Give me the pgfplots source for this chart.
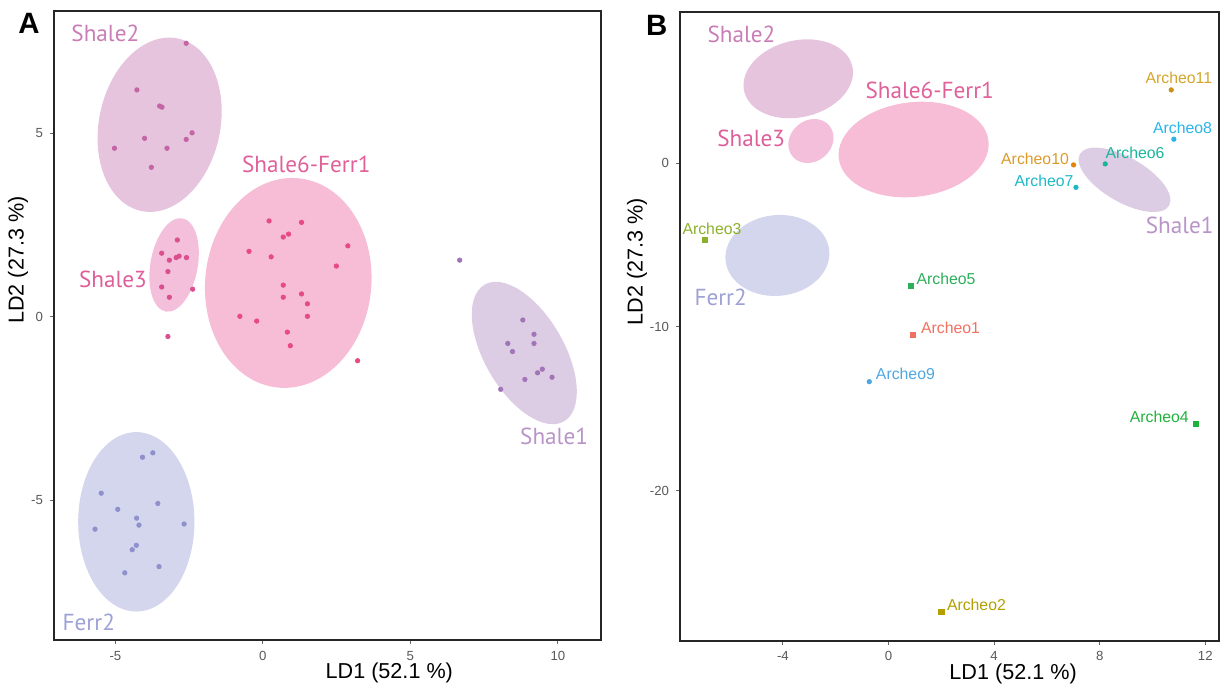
\documentclass[border=0pt]{standalone}
\usepackage{fontspec}
\setmainfont{Liberation Sans}
\newfontfamily\grpfont{PT Sans}
\usepackage{pgfplots}
\pgfplotsset{compat=1.18}

% group colours: ellipse fill, points, label
\definecolor{sh2fill}{HTML}{E6C4DD}
\definecolor{sh2pt}{HTML}{C465A6}
\definecolor{sh2txt}{HTML}{C97DB6}
\definecolor{sh3fill}{HTML}{F3BFDA}
\definecolor{sh3pt}{HTML}{DA4F90}
\definecolor{sh3txt}{HTML}{DE5E9A}
\definecolor{sh6fill}{HTML}{F7BDD7}
\definecolor{sh6pt}{HTML}{E64B86}
\definecolor{sh6txt}{HTML}{E0609A}
\definecolor{sh1fill}{HTML}{DDCDE4}
\definecolor{sh1pt}{HTML}{A275B6}
\definecolor{sh1txt}{HTML}{B894C7}
\definecolor{fe2fill}{HTML}{D3D6EC}
\definecolor{fe2pt}{HTML}{8F91CD}
\definecolor{fe2txt}{HTML}{9DA1D5}
% archaeological samples: point colour / label colour
\definecolor{ar1}{HTML}{F0705F}
\definecolor{ar2}{HTML}{B49F00}
\definecolor{ar3}{HTML}{8CB02A}
\definecolor{ar4}{HTML}{1FB23A}
\definecolor{ar5}{HTML}{2BAF5A}
\definecolor{ar6}{HTML}{19B69B}
\definecolor{ar7}{HTML}{1DBAC6}
\definecolor{ar8}{HTML}{29B4E8}
\definecolor{ar9}{HTML}{4FA6E0}
\definecolor{ar10}{HTML}{E5820A}
\definecolor{ar10t}{HTML}{DC9A2A}
\definecolor{ar11}{HTML}{C8921A}
\definecolor{ar11t}{HTML}{D4A52A}

% confidence ellipse: colour, centre (cx,cy) and two conjugate
% semi-diameters (ux,uy), (vx,vy), all in data units
\newcommand\ldaellipse[7]{%
  \pgfplotsextra{%
    \begin{pgfscope}%
      \pgfpathellipse{\pgfplotspointaxisxy{#2}{#3}}%
        {\pgfplotspointaxisdirectionxy{#4}{#5}}%
        {\pgfplotspointaxisdirectionxy{#6}{#7}}%
      \pgfsetfillcolor{#1}%
      \pgfusepath{fill}%
    \end{pgfscope}}}

\tikzset{
  grp/.style={font=\grpfont\fontsize{11.6}{14}\selectfont, inner sep=0pt},
  arc/.style={font=\fontsize{7.9}{9}\selectfont, inner sep=0pt},
}
\pgfplotsset{
  ldaaxis/.style={
    scale only axis, anchor=south west, clip=false,
    axis line style={black!85, line width=1pt},
    tick pos=left, tick align=outside,
    major tick length=2pt,
    tick style={black!60, line width=0.5pt},
    ticklabel style={font=\fontsize{6.6}{7}\selectfont, text=black!65},
    /pgf/number format/assume math mode=true,
    label style={font=\fontsize{10.8}{12}\selectfont},
    xlabel={LD1 (52.1 \%)}, ylabel={LD2 (27.3 \%)},
    axis on top,
  },
  pts/.style={only marks, mark=*, mark size=1.1pt, color=#1},
  sqr/.style={only marks, mark=square*, mark size=1.3pt, color=#1},
}

\begin{document}
\begin{tikzpicture}
\path[use as bounding box] (0,0) rectangle (614pt,344.5pt);

%% ---------------- panel A: reference groups ----------------
\begin{axis}[ldaaxis,
  at={(27pt,24.5pt)}, width=273.5pt, height=314.5pt,
  xmin=-7.08, xmax=11.46, ymin=-8.81, ymax=8.33,
  xtick={-5,0,5,10}, ytick={-5,0,5},
  xlabel style={at={(axis description cs:0.613,-0.0525)}, anchor=center},
  ylabel style={at={(axis description cs:-0.0658,0.604)}, anchor=center},
]
\ldaellipse{sh2fill}{-3.50}{5.23}{0.62}{2.35}{-2.01}{0.34}
\ldaellipse{sh3fill}{-3.01}{1.41}{0.28}{1.27}{-0.79}{0.11}
\ldaellipse{sh6fill}{0.86}{0.92}{0.37}{2.85}{-2.80}{0.24}
\ldaellipse{sh1fill}{8.86}{-0.99}{-1.35}{1.86}{-1.16}{-0.55}
\ldaellipse{fe2fill}{-4.29}{-5.59}{0}{2.444}{-1.97}{0}

\addplot[pts=sh2pt] coordinates {
 (-2.60,7.45) (-4.27,6.18) (-3.50,5.74) (-3.42,5.71) (-2.40,5.01)
 (-4.01,4.86) (-2.60,4.83) (-5.03,4.59) (-3.25,4.59) (-3.78,4.07)};
\addplot[pts=sh3pt] coordinates {
 (-2.90,2.09) (-3.43,1.73) (-3.17,1.54) (-2.94,1.61) (-2.84,1.65)
 (-2.59,1.61) (-3.22,1.23) (-3.43,0.81) (-2.38,0.75) (-3.17,0.53) (-3.22,-0.54)};
\addplot[pts=sh6pt] coordinates {
 (0.21,2.61) (1.31,2.57) (0.69,2.17) (0.87,2.25) (2.88,1.93) (-0.47,1.78)
 (0.28,1.63) (2.49,1.38) (0.69,0.86) (1.31,0.62) (0.69,0.53) (1.51,0.35)
 (-0.78,0.01) (-0.21,-0.12) (1.51,0.01) (0.83,-0.42) (0.93,-0.79) (3.21,-1.20)};
\addplot[pts=sh1pt] coordinates {
 (6.67,1.54) (8.81,-0.09) (9.19,-0.48) (8.30,-0.73) (9.19,-0.73) (8.46,-0.95)
 (9.31,-1.53) (9.47,-1.43) (8.88,-1.71) (9.80,-1.65) (8.06,-1.98)};
\addplot[pts=fe2pt] coordinates {
 (-3.73,-3.71) (-4.08,-3.83) (-5.48,-4.81) (-3.56,-5.09) (-4.92,-5.25)
 (-4.28,-5.49) (-4.20,-5.68) (-5.69,-5.79) (-2.67,-5.65) (-4.29,-6.23)
 (-4.43,-6.35) (-3.52,-6.81) (-4.68,-6.98)};

\node[grp, text=sh2txt] at (axis cs:-5.34,7.73) {Shale2};
\node[grp, text=sh6txt] at (axis cs:1.47,4.16) {Shale6-Ferr1};
\node[grp, text=sh3txt] at (axis cs:-5.08,1.03) {Shale3};
\node[grp, text=sh1txt] at (axis cs:9.87,-3.25) {Shale1};
\node[grp, text=fe2txt] at (axis cs:-5.90,-8.34) {Ferr2};

\node[anchor=north west, inner sep=0pt, font=\bfseries\fontsize{14.7}{16}\selectfont]
  at (rel axis cs:-0.066,0.997) {A};
\end{axis}

%% ---------------- panel B: archaeological samples ----------------
\begin{axis}[ldaaxis,
  at={(340pt,24.15pt)}, width=269.5pt, height=314.35pt,
  xmin=-7.90, xmax=12.52, ymin=-29.16, ymax=9.24,
  xtick={-4,0,4,8,12}, ytick={-20,-10,0},
  xlabel style={at={(axis description cs:0.618,-0.0525)}, anchor=center},
  ylabel style={at={(axis description cs:-0.0798,0.603)}, anchor=center},
]
\ldaellipse{sh2fill}{-3.42}{5.16}{2.048}{0.768}{-0.33}{2.285}
\ldaellipse{sh3fill}{-2.94}{1.36}{0.696}{0.943}{-0.499}{0.959}
\ldaellipse{sh6fill}{0.95}{0.84}{2.836}{0.537}{-0.209}{2.870}
\ldaellipse{sh1fill}{8.94}{-1.01}{1.689}{-1.573}{0.422}{1.180}
\ldaellipse{fe2fill}{-4.21}{-5.63}{1.964}{0.310}{-0.149}{2.456}

\node[grp, text=sh2txt] at (axis cs:-5.57,7.88) {Shale2};
\node[grp, text=sh6txt] at (axis cs:1.56,4.43) {Shale6-Ferr1};
\node[grp, text=sh3txt] at (axis cs:-5.20,1.53) {Shale3};
\node[grp, text=sh1txt] at (axis cs:11.03,-3.82) {Shale1};
\node[grp, text=fe2txt] at (axis cs:-6.36,-8.21) {Ferr2};

% square marks
\addplot[sqr=ar1] coordinates {(0.92,-10.49)};
\addplot[sqr=ar2] coordinates {(2.00,-27.39)};
\addplot[sqr=ar3] coordinates {(-6.95,-4.69)};
\addplot[sqr=ar4] coordinates {(11.63,-15.94)};
\addplot[sqr=ar5] coordinates {(0.86,-7.50)};
% round marks
\addplot[pts=ar6] coordinates {(8.21,-0.04)};
\addplot[pts=ar7] coordinates {(7.10,-1.47)};
\addplot[pts=ar8] coordinates {(10.81,1.47)};
\addplot[pts=ar9] coordinates {(-0.73,-13.34)};
\addplot[pts=ar10] coordinates {(7.01,-0.10)};
\addplot[pts=ar11] coordinates {(10.71,4.48)};

\node[arc, text=ar1] at (axis cs:2.35,-10.08) {Archeo1};
\node[arc, text=ar2] at (axis cs:3.33,-26.98) {Archeo2};
\node[arc, text=ar3] at (axis cs:-6.69,-4.00) {Archeo3};
\node[arc, text=ar4] at (axis cs:10.26,-15.50) {Archeo4};
\node[arc, text=ar5] at (axis cs:2.18,-7.06) {Archeo5};
\node[arc, text=ar6] at (axis cs:9.34,0.63) {Archeo6};
\node[arc, text=ar7] at (axis cs:5.89,-1.08) {Archeo7};
\node[arc, text=ar8] at (axis cs:11.14,2.19) {Archeo8};
\node[arc, text=ar9] at (axis cs:0.64,-12.89) {Archeo9};
\node[arc, text=ar10t] at (axis cs:5.55,0.27) {Archeo10};
\node[arc, text=ar11t] at (axis cs:11.00,5.21) {Archeo11};

\node[anchor=north west, inner sep=0pt, font=\bfseries\fontsize{14.7}{16}\selectfont]
  at (rel axis cs:-0.0638,0.995) {B};
\end{axis}
\end{tikzpicture}
\end{document}
